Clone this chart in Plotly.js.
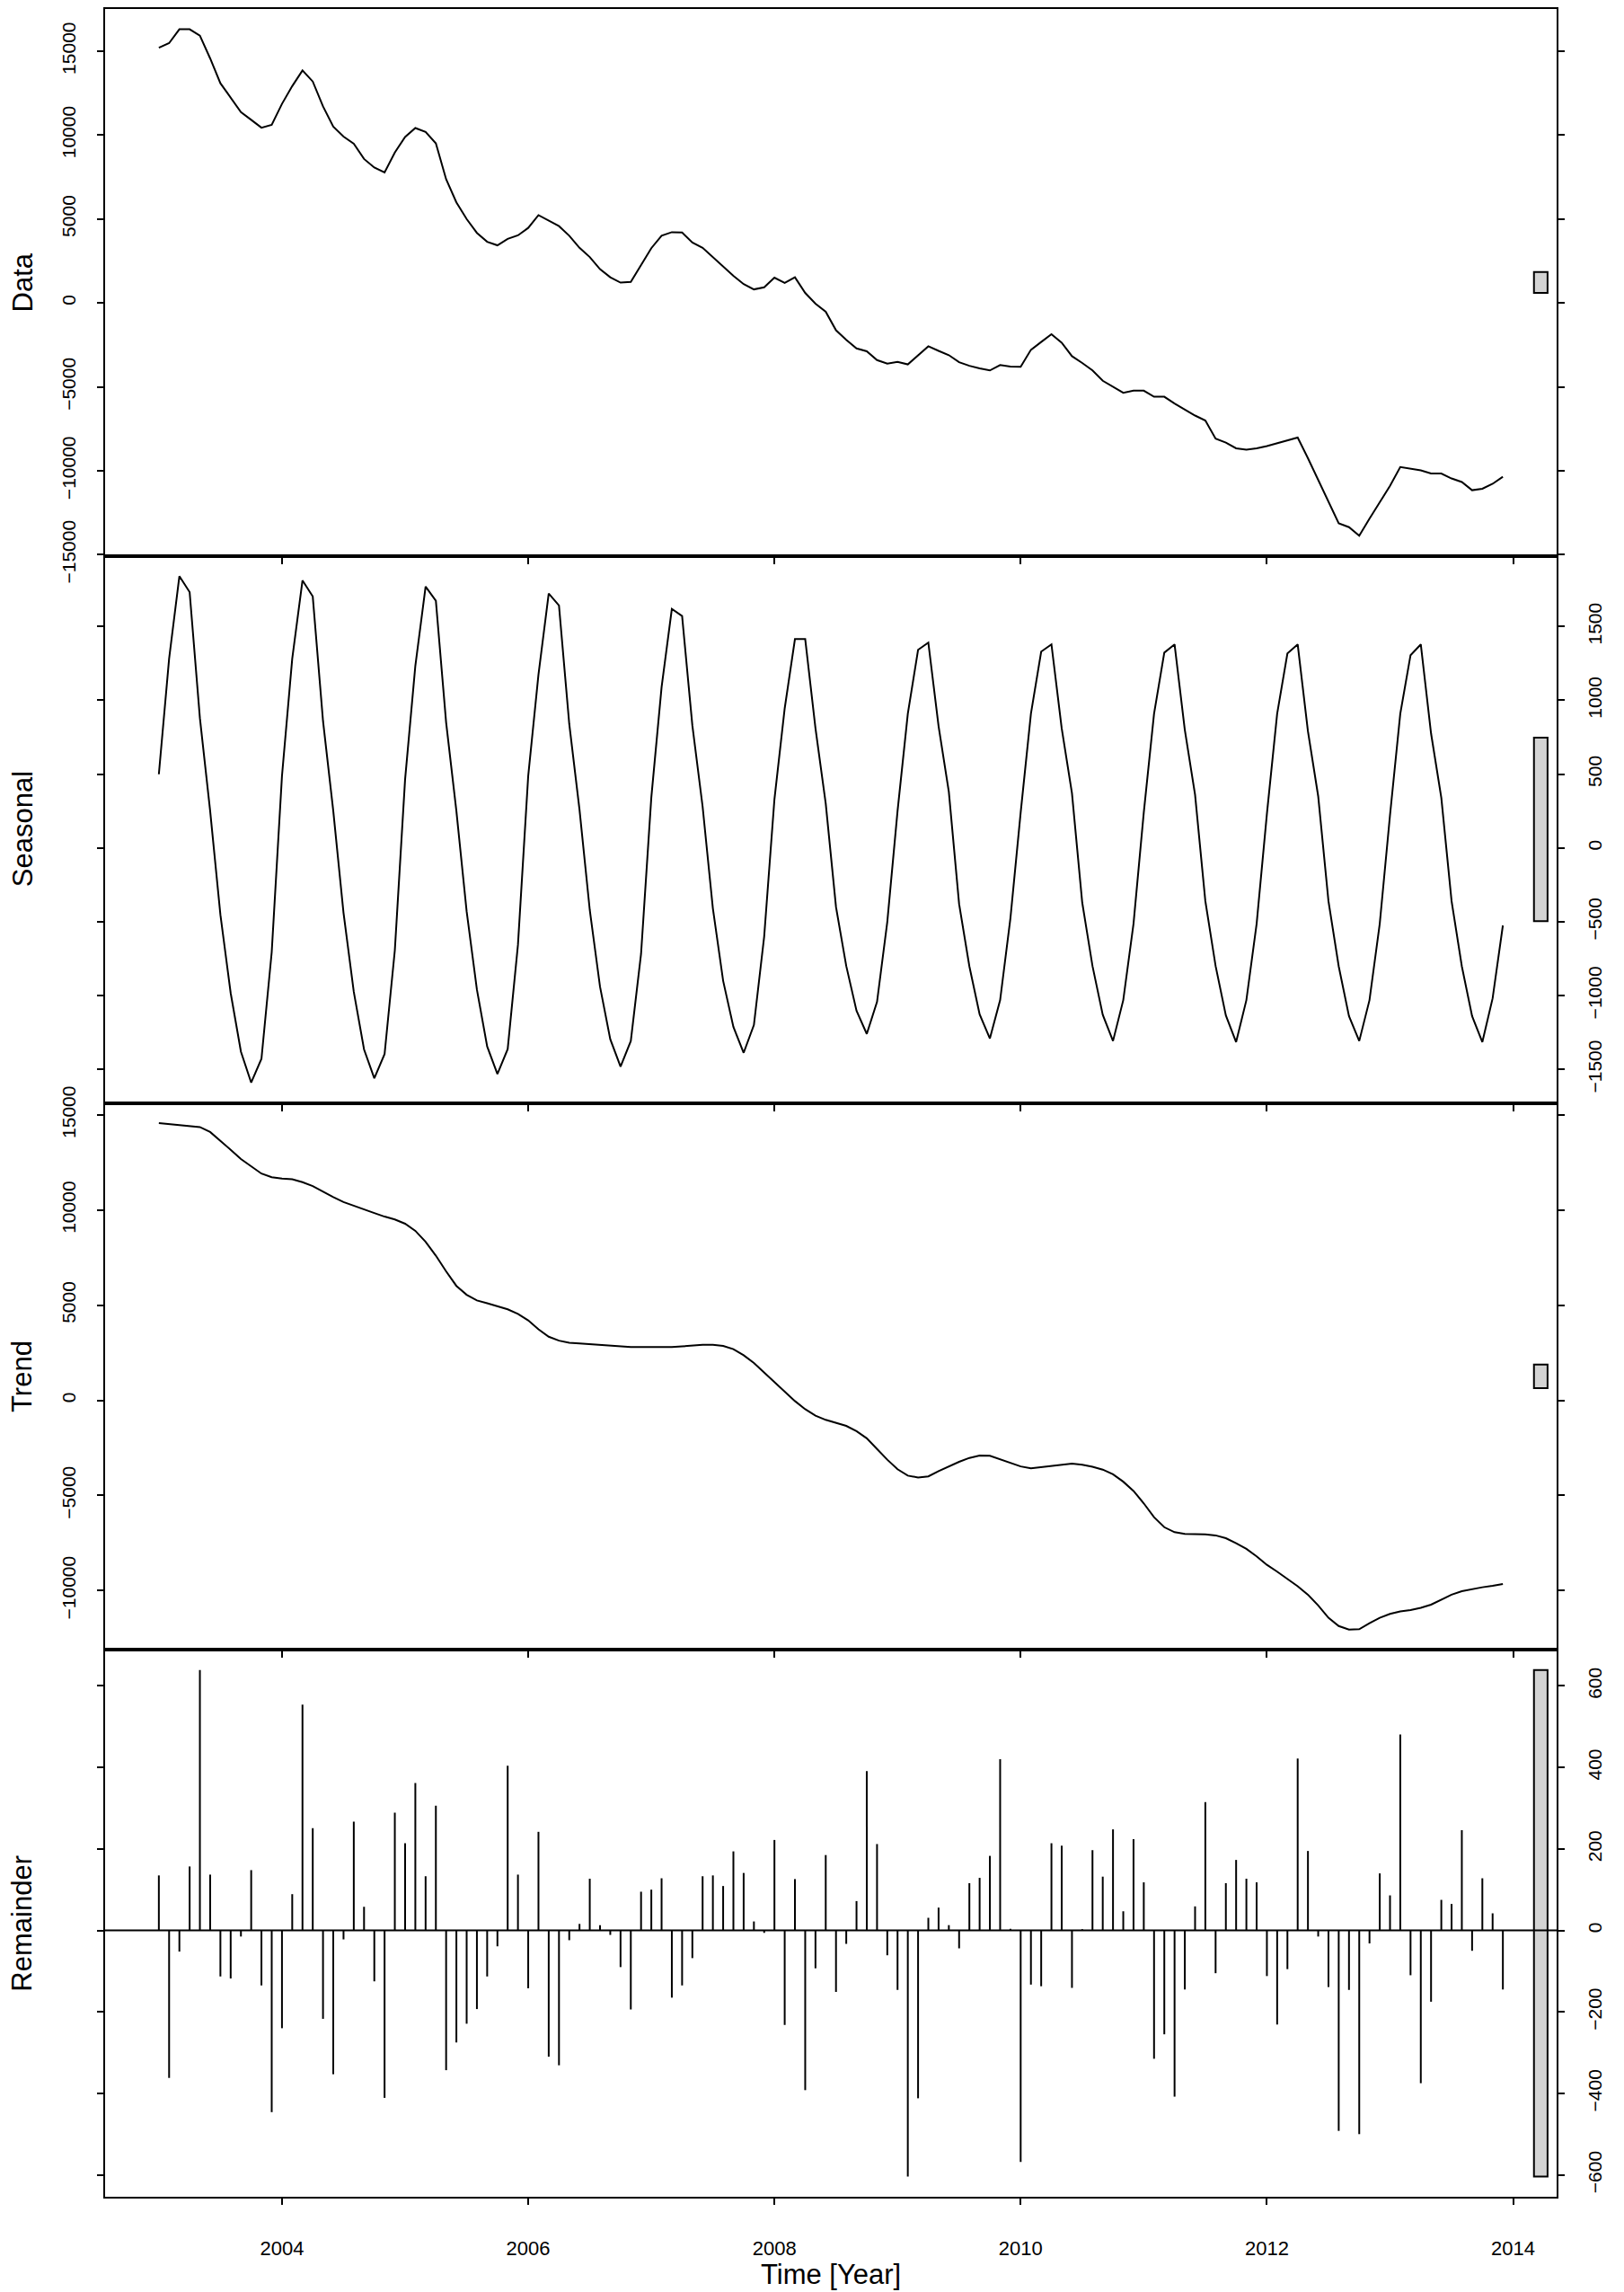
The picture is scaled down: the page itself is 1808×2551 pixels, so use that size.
<!DOCTYPE html>
<html>
<head>
<meta charset="utf-8">
<script src="https://cdn.plot.ly/plotly-3.0.1.min.js"></script>
<style>
  html, body { margin: 0; padding: 0; background: #ffffff; }
  #chart { width: 1808px; height: 2551px; }
</style>
</head>
<body>
<div id="chart"></div>
<script>
// ---- Data (monthly, start 2003, frequency 12) ----
const startYear = 2003;
const frequency = 12;

const dataValues = [
  15198, 15473, 16299, 16299, 15918, 14563, 13081, 12234, 11366, 10901, 10435, 10604,
  11853, 12912, 13843, 13187, 11705, 10498, 9906, 9482, 8572, 8064, 7767, 8953,
  9884, 10414, 10181, 9503, 7365, 5989, 4994, 4168, 3639, 3427, 3809, 4020,
  4465, 5227, 4888, 4571, 3999, 3279, 2729, 2009, 1522, 1205, 1247, 2265,
  3258, 3999, 4211, 4190, 3597, 3279, 2729, 2157, 1607, 1120, 802, 929,
  1501, 1184, 1522, 591, -44, -531, -1632, -2204, -2712, -2881, -3410, -3622,
  -3516, -3664, -3114, -2585, -2860, -3114, -3537, -3749, -3897, -4024, -3707, -3791,
  -3813, -2796, -2330, -1865, -2373, -3177, -3580, -4024, -4638, -4977, -5358, -5231,
  -5231, -5591, -5591, -5993, -6374, -6713, -7009, -8089, -8322, -8661, -8745, -8661,
  -8534, -8364, -8195, -8026, -9253, -10524, -11794, -13127, -13360, -13868, -12852, -11899,
  -10904, -9782, -9867, -9973, -10163, -10163, -10460, -10672, -11159, -11074, -10778, -10355
];

const seasonalValues = [
  499, 1282, 1841, 1733, 880, 250, -453, -983, -1380, -1590, -1429, -706,
  487, 1282, 1812, 1704, 860, 250, -440, -975, -1365, -1561, -1397, -694,
  463, 1234, 1771, 1675, 850, 250, -430, -960, -1345, -1532, -1363, -657,
  487, 1174, 1723, 1643, 840, 260, -420, -940, -1296, -1482, -1308, -718,
  342, 1089, 1619, 1571, 830, 280, -410, -900, -1212, -1388, -1200, -600,
  330, 945, 1415, 1415, 810, 300, -400, -800, -1103, -1260, -1043, -501,
  250, 909, 1342, 1391, 824, 380, -380, -802, -1127, -1291, -1031, -477,
  240, 909, 1330, 1379, 810, 370, -370, -800, -1130, -1308, -1031, -513,
  240, 909, 1323, 1379, 800, 360, -360, -800, -1135, -1315, -1031, -513,
  230, 909, 1318, 1379, 790, 350, -360, -802, -1139, -1308, -1031, -513,
  222, 909, 1306, 1379, 776, 340, -360, -802, -1139, -1315, -1019, -525
];

const trendValues = [
  14567, 14511, 14455, 14418, 14362, 14100, 13652, 13166, 12680, 12288, 11915, 11728,
  11653, 11616, 11466, 11261, 10962, 10682, 10420, 10215, 10009, 9841, 9654, 9505,
  9281, 8907, 8328, 7600, 6778, 6012, 5545, 5246, 5097, 4947, 4779, 4536,
  4200, 3733, 3340, 3135, 3023, 2986, 2948, 2892, 2855, 2817, 2799, 2799,
  2799, 2799, 2799, 2836, 2874, 2911, 2911, 2855, 2687, 2369, 1958, 1454,
  931, 464, -41, -470, -806, -1030, -1180, -1348, -1628, -2002, -2562, -3123,
  -3627, -3963, -4057, -4001, -3721, -3459, -3235, -3031, -2900, -2919, -3106, -3310,
  -3478, -3571, -3515, -3441, -3384, -3328, -3384, -3496, -3646, -3889, -4281, -4767,
  -5420, -6149, -6672, -6934, -7027, -7046, -7046, -7102, -7251, -7513, -7811, -8204,
  -8652, -9007, -9381, -9773, -10221, -10782, -11435, -11865, -12052, -12033, -11716, -11435,
  -11230, -11099, -11024, -10912, -10744, -10483, -10221, -10034, -9922, -9829, -9754, -9661
];

const remainderValues = [
  135, -362, -52, 157, 639, 137, -113, -118, -15, 148, -135, -446,
  -240, 89, 554, 251, -217, -353, -22, 267, 58, -125, -411, 289,
  214, 362, 133, 306, -343, -275, -229, -193, -113, -39, 404, 137,
  -142, 242, -310, -331, -24, 16, 127, 13, -11, -90, -194, 95,
  100, 128, -165, -135, -68, 133, 135, 109, 194, 141, 22, -6,
  222, -232, 126, -392, -93, 185, -151, -33, 72, 391, 212, -61,
  -146, -604, -412, 31, 56, 13, -44, 116, 129, 183, 420, 4,
  -568, -133, -137, 214, 208, -141, 3, 197, 132, 248, 47, 224,
  118, -315, -255, -408, -145, 59, 315, -105, 116, 173, 127, 118,
  -112, -231, -95, 422, 195, -15, -139, -492, -146, -500, -32, 140,
  86, 481, -110, -375, -175, 75, 65, 246, -50, 128, 42, -145
];

const panelLabels = ["Data", "Seasonal", "Trend", "Remainder"];
const xTickValues = [2004, 2006, 2008, 2010, 2012, 2014];
const yTickSteps = [5000, 500, 5000, 200];
const xAxisTitle = "Time [Year]";

// ---- Build ----
const n = dataValues.length;
const time = dataValues.map((_, i) => startYear + i / frequency);
const series = [dataValues, seasonalValues, trendValues, remainderValues];

const tMin = time[0], tMax = time[n - 1];
const xRange = [tMin - 0.04 * (tMax - tMin), tMax + 0.04 * (tMax - tMin)];

const ranges = series.map(s => [Math.min(...s), Math.max(...s)]);
const yRanges = ranges.map(r => {
  const d = r[1] - r[0];
  return [r[0] - 0.04 * d, r[1] + 0.04 * d];
});
const mx = Math.min(...ranges.map(r => r[1] - r[0]));
const dx = (xRange[1] - xRange[0]) / 64;

const FONT = "Liberation Sans, Arial, Helvetica, sans-serif";
const lineW = 2;

const traces = [];
for (let p = 0; p < 3; p++) {
  traces.push({
    x: time, y: series[p], type: "scatter", mode: "lines",
    line: { color: "#000000", width: lineW },
    xaxis: p === 0 ? "x" : "x" + (p + 1),
    yaxis: p === 0 ? "y" : "y" + (p + 1),
    hoverinfo: "skip", showlegend: false
  });
}
// Remainder as vertical "h" lines
const hx = [], hy = [];
for (let i = 0; i < n; i++) {
  hx.push(time[i], time[i], null);
  hy.push(0, remainderValues[i], null);
}
traces.push({
  x: hx, y: hy, type: "scatter", mode: "lines",
  line: { color: "#000000", width: lineW },
  xaxis: "x4", yaxis: "y4", hoverinfo: "skip", showlegend: false,
  connectgaps: false
});

const layout = {
  width: 1808, height: 2551,
  margin: { l: 117, r: 75, t: 10, b: 106 },
  paper_bgcolor: "#ffffff", plot_bgcolor: "#ffffff",
  font: { family: FONT, size: 21, color: "#000000" },
  showlegend: false,
  shapes: [],
  annotations: []
};

const domains = [[0.75, 1], [0.5, 0.75], [0.25, 0.5], [0, 0.25]];
for (let p = 0; p < 4; p++) {
  const xa = p === 0 ? "xaxis" : "xaxis" + (p + 1);
  const ya = p === 0 ? "yaxis" : "yaxis" + (p + 1);
  const xr = p === 0 ? "x" : "x" + (p + 1);
  const yr = p === 0 ? "y" : "y" + (p + 1);
  layout[xa] = {
    range: xRange, anchor: yr, domain: [0, 1],
    tickmode: "array", tickvals: xTickValues,
    ticktext: xTickValues.map(String),
    showticklabels: p === 3,
    ticks: "outside", ticklen: 7, tickwidth: 2, tickcolor: "#000000",
    showline: true, linecolor: "#000000", linewidth: 2, mirror: true,
    showgrid: false, zeroline: false,
    tickfont: { family: FONT, size: 22, color: "#000000" },
    ticklabelstandoff: 30
  };
  const right = (p % 2 === 1);
  layout[ya] = {
    range: yRanges[p], domain: domains[p], anchor: xr,
    side: right ? "right" : "left",
    tickmode: "linear", tick0: 0, dtick: yTickSteps[p],
    tickformat: "d",
    ticks: "outside", ticklen: 7, tickwidth: 2, tickcolor: "#000000",
    showline: true, linecolor: "#000000", linewidth: 2, mirror: "ticks",
    showgrid: false, zeroline: false,
    tickangle: -90,
    tickfont: { family: FONT, size: 21, color: "#000000" },
    ticklabelstandoff: 16
  };
  // range bar
  const c = (ranges[p][0] + ranges[p][1]) / 2;
  layout.shapes.push({
    type: "rect", xref: xr, yref: yr,
    x0: xRange[1] - dx, x1: xRange[1] - 0.4 * dx,
    y0: c - mx / 2, y1: c + mx / 2,
    fillcolor: "#D3D3D3", line: { color: "#000000", width: 2 }, layer: "above"
  });
  // panel label
  layout.annotations.push({
    text: panelLabels[p], xref: "paper", yref: "paper",
    x: -0.0569, y: (domains[p][0] + domains[p][1]) / 2,
    xanchor: "center", yanchor: "middle", textangle: -90, showarrow: false,
    font: { family: FONT, size: 31, color: "#000000" }
  });
}
// zero line in remainder
layout.shapes.push({
  type: "line", xref: "x4 domain", yref: "y4",
  x0: 0, x1: 1, y0: 0, y1: 0,
  line: { color: "#000000", width: 2 }, layer: "above"
});
// x title
layout.annotations.push({
  text: xAxisTitle, xref: "paper", yref: "paper",
  x: 0.5, y: -0.0357, xanchor: "center", yanchor: "middle", showarrow: false,
  font: { family: FONT, size: 31, color: "#000000" }
});

Plotly.newPlot("chart", traces, layout, { staticPlot: true, displayModeBar: false });
</script>
</body>
</html>
